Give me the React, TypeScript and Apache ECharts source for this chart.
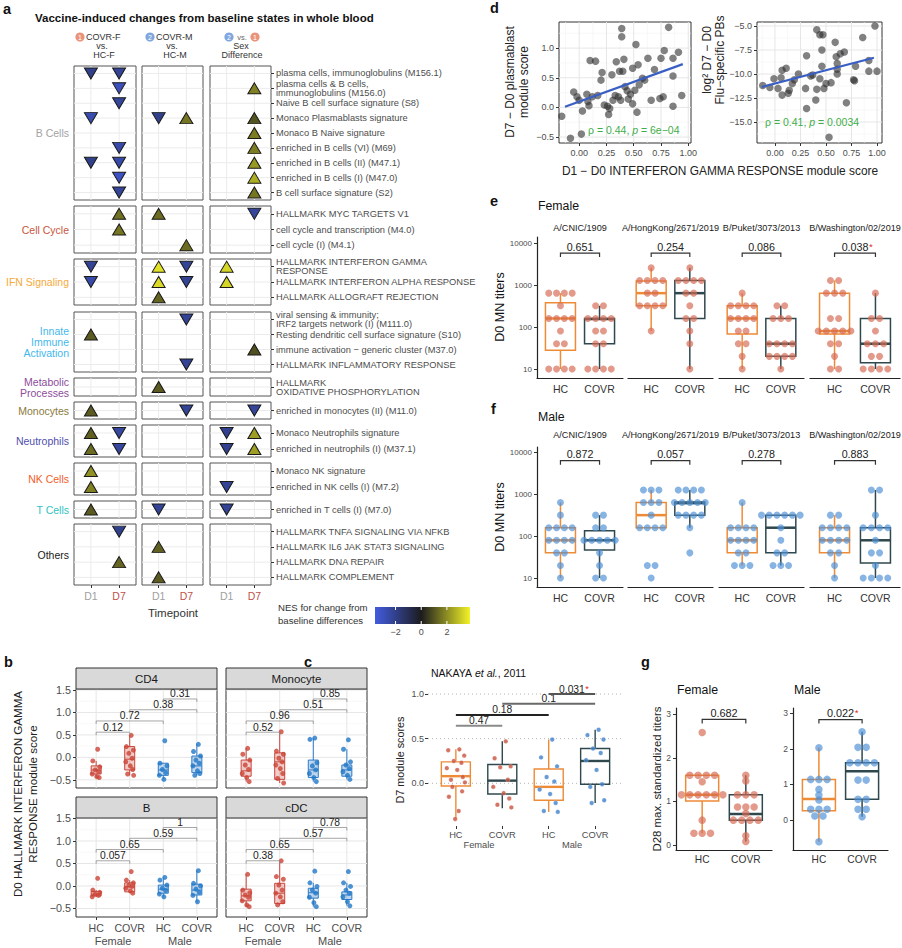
import React, { useEffect, useRef } from "react";
import * as echarts from "echarts";

const FONT = "'Liberation Sans', Arial, Helvetica, sans-serif";

/* ================= panel a ================= */
const aGroupNames = ["B Cells", "Cell Cycle", "IFN Signaling", "Innate\nImmune\nActivation", "Metabolic\nProcesses", "Monocytes", "Neutrophils", "NK Cells", "T Cells", "Others"];
const aGroupColors = ["#a3a3a3", "#c8553d", "#f5a93b", "#3fb8ec", "#8e4c9c", "#8a7a3c", "#4f4fae", "#f2602b", "#2fc2c2", "#1a1a1a"];
const aGroupSizes = [9, 3, 3, 4, 1, 1, 2, 2, 1, 4];
const aRowLabels = [
  "plasma cells, immunoglobulins (M156.1)",
  "plasma cells & B cells,\nimmunoglobulins (M156.0)",
  "Naive B cell surface signature (S8)",
  "Monaco Plasmablasts signature",
  "Monaco B Naive signature",
  "enriched in B cells (VI) (M69)",
  "enriched in B cells (II) (M47.1)",
  "enriched in B cells (I) (M47.0)",
  "B cell surface signature (S2)",
  "HALLMARK MYC TARGETS V1",
  "cell cycle and transcription (M4.0)",
  "cell cycle (I) (M4.1)",
  "HALLMARK INTERFERON GAMMA\nRESPONSE",
  "HALLMARK INTERFERON ALPHA RESPONSE",
  "HALLMARK ALLOGRAFT REJECTION",
  "viral sensing & immunity;\nIRF2 targets network (I) (M111.0)",
  "Resting dendritic cell surface signature (S10)",
  "immune activation \u2212 generic cluster (M37.0)",
  "HALLMARK INFLAMMATORY RESPONSE",
  "HALLMARK\nOXIDATIVE PHOSPHORYLATION",
  "enriched in monocytes (II) (M11.0)",
  "Monaco Neutrophils signature",
  "enriched in neutrophils (I) (M37.1)",
  "Monaco NK signature",
  "enriched in NK cells (I) (M7.2)",
  "enriched in T cells (I) (M7.0)",
  "HALLMARK TNFA SIGNALING VIA NFKB",
  "HALLMARK IL6 JAK STAT3 SIGNALING",
  "HALLMARK DNA REPAIR",
  "HALLMARK COMPLEMENT",
];
const aTimepoints = ["D1", "D7"];
// [row index, timepoint (1 = D1, 2 = D7), NES]
const aCovrFvsHcF = [
  [0, 1, -2.0], [0, 2, -2.2], [1, 2, -2.9], [2, 2, -2.3], [3, 1, -2.7], [5, 2, -2.6], [6, 1, -2.0], [6, 2, -2.6],
  [7, 2, -3.1], [8, 2, -2.3], [9, 2, 1.5], [10, 2, 1.6], [12, 1, -2.2], [13, 1, -2.6], [16, 1, 1.1], [20, 1, 1.1],
  [21, 1, 1.2], [21, 2, -2.4], [22, 1, 1.4], [22, 2, -2.4], [23, 1, 2.1], [24, 1, 1.8], [25, 1, 1.1], [26, 2, -2.0], [28, 2, 1.3],
];
const aCovrMvsHcM = [
  [3, 1, -2.0], [3, 2, 1.6], [9, 1, 1.4], [11, 2, 1.4], [12, 1, 3.5], [12, 2, -2.2], [13, 1, 3.4], [13, 2, -2.2],
  [14, 1, 1.3], [15, 2, -2.2], [18, 2, -2.2], [19, 1, 1.1], [20, 2, -2.2], [25, 1, -2.2], [27, 1, 1.2], [29, 1, 1.1],
];
const aSexDifference = [
  [1, 2, 1.8], [3, 2, 1.0], [4, 2, 1.7], [5, 2, 1.7], [6, 2, 2.2], [7, 2, 2.6], [8, 2, 1.6], [9, 2, -2.3],
  [12, 1, 3.3], [13, 1, 3.3], [17, 2, 0.9], [20, 2, -2.3], [21, 1, -2.1], [21, 2, 2.3], [22, 1, -2.1], [22, 2, 2.3],
  [24, 1, -2.2], [25, 1, -2.2],
];
const aNesTicks = [-2, 0, 2];
const aNesLimits = [-3.6, 3.8];

/* ================= panel b ================= */
const bCellTypes = ["CD4", "Monocyte", "B", "cDC"];
const bGroupLabels = ["HC", "COVR", "HC", "COVR"];
const bSexLabels = ["Female", "Male"];
const bPoints = [
  [[0.18, -0.08, -0.21, -0.28, -0.32, -0.37, -0.43, -0.45], [0.49, 0.24, 0.16, 0.09, -0.02, -0.1, -0.19, -0.27, -0.37, -0.4], [0.37, -0.13, -0.19, -0.27, -0.34, -0.4, -0.49], [0.29, 0.13, 0.03, -0.06, -0.13, -0.19, -0.3, -0.36, -0.4]],
  [[0.2, 0.07, -0.06, -0.17, -0.27, -0.36, -0.45, -0.54], [0.57, 0.14, 0.07, -0.02, -0.1, -0.17, -0.25, -0.36, -0.47, -0.57], [0.43, 0.4, -0.12, -0.19, -0.28, -0.36, -0.45, -0.54], [0.39, 0.18, -0.1, -0.17, -0.25, -0.32, -0.4, -0.49]],
  [[0.17, -0.09, -0.14, -0.18, -0.21, -0.24], [0.32, 0.13, 0.07, 0.02, -0.01, -0.05, -0.11, -0.16], [0.19, 0.13, 0.02, -0.05, -0.1, -0.18, -0.24], [0.34, 0.06, 0.0, -0.07, -0.14, -0.21, -0.35]],
  [[0.26, -0.09, -0.15, -0.2, -0.25, -0.33, -0.42, -0.46], [0.56, 0.21, 0.15, 0.02, -0.09, -0.16, -0.24, -0.35, -0.42], [0.33, 0.07, -0.01, -0.09, -0.16, -0.25, -0.37, -0.46], [0.32, 0.07, -0.01, -0.09, -0.16, -0.24, -0.35, -0.44]],
];
const bBoxes = [
  [[-0.45, -0.37, -0.28, -0.19, -0.08], [-0.4, -0.28, -0.04, 0.24, 0.49], [-0.49, -0.4, -0.28, -0.13, -0.13], [-0.4, -0.34, -0.19, 0.03, 0.29]],
  [[-0.54, -0.42, -0.3, -0.06, 0.2], [-0.57, -0.49, -0.1, 0.1, 0.57], [-0.54, -0.45, -0.28, -0.06, 0.43], [-0.49, -0.42, -0.28, -0.17, 0.18]],
  [[-0.24, -0.22, -0.18, -0.12, -0.09], [-0.16, -0.13, -0.02, 0.07, 0.13], [-0.24, -0.16, -0.07, 0.02, 0.19], [-0.35, -0.2, -0.09, 0.04, 0.34]],
  [[-0.46, -0.33, -0.22, -0.07, 0.26], [-0.42, -0.39, -0.16, 0.06, 0.56], [-0.46, -0.27, -0.15, -0.05, 0.07], [-0.44, -0.3, -0.2, -0.13, 0.07]],
];
const bPValues = [["0.12", "0.72", "0.38", "0.31"], ["0.52", "0.96", "0.51", "0.85"], ["0.057", "0.65", "0.59", "1"], ["0.38", "0.65", "0.57", "0.78"]];
const bComparisons = [[1, 2], [1, 3], [2, 4], [3, 4]];
const bBracketY = [0.56, 0.81, 1.06, 1.3];
const bTicksY = [-0.5, 0, 0.5, 1, 1.5];

/* ================= panel c ================= */
const cGroupLabels = ["HC", "COVR", "HC", "COVR"];
const cHCFemale = [0.38, 0.37, 0.31, 0.25, 0.23, 0.17, 0.15, 0.07, 0.04, 0.01, -0.04, -0.09, -0.15, -0.31, -0.4];
const cCOVRFemale = [0.47, 0.28, 0.19, 0.18, 0.04, -0.04, -0.11, -0.17, -0.24, -0.27];
const cHCMale = [0.49, 0.29, 0.19, 0.07, 0.02, -0.07, -0.12, -0.22, -0.31, -0.32];
const cCOVRMale = [0.6, 0.54, 0.49, 0.39, 0.34, 0.26, 0.15, -0.01, -0.04, -0.19, -0.22];
const cBoxes = [[-0.39, -0.03, 0.08, 0.24, 0.38], [-0.28, -0.12, 0.03, 0.21, 0.47], [-0.32, -0.19, -0.04, 0.16, 0.49], [-0.22, -0.01, 0.25, 0.39, 0.6]];
const cPValues = ["0.47", "0.18", "0.1", "0.031"];
const cSignificant = [false, false, false, true];
const cComparisons = [[1, 2], [1, 3], [2, 4], [3, 4]];
const cBracketY = [0.645, 0.765, 0.89, 1.0];
const cTicksY = [0, 0.5, 1];

/* ================= panel d ================= */
const dPlasmablast = [
  [-0.16, -0.15], [-0.08, -0.52], [-0.05, 0.26], [-0.02, 0.18], [0.0, 0.12], [0.02, -0.45], [0.03, -0.06], [0.07, 0.22],
  [0.08, 0.1], [0.09, 0.03], [0.1, 0.79], [0.15, 0.78], [0.12, 0.18], [0.17, 0.2], [0.2, 0.46], [0.21, 0.59],
  [0.23, 0.04], [0.26, 0.02], [0.27, -0.12], [0.28, -0.02], [0.3, 0.55], [0.31, 0.12], [0.33, 0.2], [0.34, 0.77],
  [0.36, 0.18], [0.37, 0.61], [0.38, 0.12], [0.39, 1.33], [0.39, 1.19], [0.4, 0.61], [0.41, 0.81], [0.42, 0.35],
  [0.44, 0.28], [0.45, 0.14], [0.47, 0.22], [0.49, 0.06], [0.49, 0.66], [0.51, 0.29], [0.52, 1.06], [0.53, -0.08],
  [0.54, 0.72], [0.55, 0.38], [0.58, 0.49], [0.6, 0.46], [0.63, 0.83], [0.66, 0.12], [0.69, 0.64], [0.74, 0.15],
  [0.77, 0.18], [0.75, 0.83], [0.78, 0.96], [0.82, 1.35], [0.86, 0.83], [0.86, 0.53], [0.86, 0.02], [0.91, 0.93], [0.94, 0.2],
];
const dFluPB = [
  [-0.12, -11.2], [-0.05, -11.4], [-0.01, -10.5], [0.03, -11.5], [0.06, -10.4], [0.07, -12.2], [0.07, -9.6], [0.11, -9.4],
  [0.13, -12.0], [0.14, -11.7], [0.17, -11.0], [0.19, -10.6], [0.23, -10.0], [0.3, -11.5], [0.31, -13.6], [0.31, -8.1],
  [0.35, -10.2], [0.37, -10.1], [0.4, -12.7], [0.41, -11.6], [0.41, -5.4], [0.44, -5.9], [0.46, -7.5], [0.47, -5.9],
  [0.44, -10.5], [0.46, -9.2], [0.48, -11.5], [0.5, -11.0], [0.53, -16.6], [0.55, -10.9], [0.59, -6.7], [0.6, -8.2],
  [0.61, -8.9], [0.61, -9.5], [0.61, -10.0], [0.64, -7.9], [0.68, -7.7], [0.7, -13.0], [0.77, -10.6], [0.78, -10.7],
  [0.79, -9.2], [0.86, -6.2], [0.92, -8.6], [0.92, -9.7], [0.98, -5.0], [1.0, -9.7],
];
const dPlasmablastFit = [[-0.13, 0.01], [0.95, 0.73]];
const dFluPBFit = [[-0.13, -11.35], [0.97, -8.3]];
const dTicksX = [0, 0.25, 0.5, 0.75, 1];
const dTicksPlasmablast = [-0.5, 0, 0.5, 1];
const dTicksFluPB = [-15, -12.5, -10, -7.5, -5];

/* ================= panels e / f ================= */
const eStrains = ["A/CNIC/1909", "A/HongKong/2671/2019", "B/Puket/3073/2013", "B/Washington/02/2019"];
const eGroupLabels = ["HC", "COVR"];
const eTiterTicks = [10, 100, 1000, 10000];
const eFemaleHC = [
  [640, 640, 640, 640, 320, 160, 160, 160, 160, 80, 40, 40, 10, 10, 10, 10],
  [2560, 1280, 1280, 1280, 1280, 640, 640, 320, 320, 320, 320, 80],
  [640, 320, 320, 320, 320, 160, 160, 160, 160, 80, 80, 40, 40, 20, 10],
  [1280, 1280, 640, 640, 640, 160, 160, 80, 80, 80, 80, 80, 40, 40, 20, 10, 10],
];
const eFemaleCOVR = [
  [320, 320, 160, 160, 160, 160, 80, 80, 40, 40, 10, 10, 10, 10],
  [2560, 1280, 1280, 1280, 1280, 640, 640, 320, 160, 160, 80, 40, 10],
  [320, 320, 160, 160, 160, 40, 40, 40, 40, 20, 20, 20, 20, 10],
  [640, 160, 160, 80, 40, 40, 40, 20, 20, 10, 10, 10, 10],
];
const eMaleHC = [
  [640, 320, 160, 160, 160, 160, 80, 80, 80, 80, 40, 40, 20, 10],
  [1280, 1280, 1280, 640, 640, 640, 320, 160, 160, 160, 160, 20, 20, 10],
  [640, 160, 160, 160, 160, 80, 80, 80, 80, 40, 40, 20, 20, 20],
  [320, 320, 160, 160, 160, 160, 80, 80, 80, 80, 40, 40, 20, 10],
];
const eMaleCOVR = [
  [320, 320, 160, 160, 80, 80, 80, 80, 80, 40, 20, 10, 10],
  [1280, 1280, 1280, 1280, 640, 640, 640, 640, 640, 320, 320, 320, 320, 160, 40],
  [320, 320, 320, 320, 320, 320, 160, 80, 40, 40, 20, 20, 20],
  [1280, 1280, 320, 160, 160, 160, 160, 80, 40, 40, 20, 10, 10, 10, 10],
];
const eFemaleHCBox = [[10, 28, 160, 380, 640], [80, 320, 640, 1250, 2560], [10, 68, 160, 320, 640], [10, 68, 80, 640, 1280]];
const eFemaleCOVRBox = [[10, 40, 155, 160, 320], [10, 160, 640, 1280, 2560], [10, 20, 40, 160, 320], [10, 14, 40, 160, 640]];
const eMaleHCBox = [[10, 40, 80, 160, 640], [160, 160, 320, 640, 1280], [20, 40, 80, 160, 640], [10, 40, 80, 160, 320]];
const eMaleCOVRBox = [[10, 47, 80, 135, 320], [160, 320, 620, 660, 1280], [20, 40, 160, 320, 320], [10, 23, 80, 160, 1280]];
const eFemalePValues = ["0.651", "0.254", "0.086", "0.038"];
const eFemaleSignificant = [false, false, false, true];
const eMalePValues = ["0.872", "0.057", "0.278", "0.883"];
const eMaleSignificant = [false, false, false, false];
const eBracketTiter = [5750, 6450];

/* ================= panel g ================= */
const gFemaleHC = [2.58, 1.6, 1.6, 1.6, 1.6, 1.45, 1.15, 1.15, 1.15, 1.15, 1.15, 1.15, 0.57, 0.27, 0.27, 0.27];
const gFemaleCOVR = [1.6, 1.47, 1.15, 1.15, 1.15, 0.87, 0.87, 0.87, 0.72, 0.57, 0.57, 0.57, 0.57, 0.21, 0.08];
const gMaleHC = [2.03, 1.14, 1.14, 1.14, 0.86, 0.7, 0.56, 0.3, 0.3, 0.3, 0.11, 0.11, -0.61];
const gMaleCOVR = [2.48, 2.04, 2.04, 1.61, 1.61, 1.61, 1.61, 1.12, 1.12, 0.58, 0.58, 0.3, 0.3, 0.09];
const gFemaleBoxes = [[0.27, 1.01, 1.15, 1.6, 1.6], [0.08, 0.57, 0.71, 1.15, 1.6]];
const gMaleBoxes = [[-0.61, 0.26, 0.59, 1.14, 2.03], [0.09, 0.58, 1.37, 1.61, 2.48]];
const gPValues = ["0.682", "0.022"];
const gSignificant = [false, true];
const gBracketY = [2.88, 2.82];
const gTicksY = [0, 1, 2, 3];

/* ================= styling constants ================= */
const HC_COL = "#ee8b37";
const COVR_COL = "#2f484e";
const STAR_COL = "#e3261f";
const JITTER = [0.05, -0.11, 0.12, -0.03, 0.08, -0.13, 0.02, 0.1, -0.07, 0.13, -0.05, 0.09, -0.1, 0.04, -0.01];

function nesColor(v: number): string {
  const mid = [28, 28, 30];
  const lo = [66, 92, 224];
  const hi = [242, 242, 40];
  const t = v < 0 ? Math.min(1, v / aNesLimits[0]) : Math.min(1, v / aNesLimits[1]);
  const end = v < 0 ? lo : hi;
  return "rgb(" + mid.map((m, i) => Math.round(m + (end[i] - m) * t)).join(",") + ")";
}
const neg = (s: string) => s.replace("-", "\u2212");
const lg = (v: number) => Math.round(Math.log10(v) * 1e6) / 1e6;
// approximate advance width (em) of a numeric label in an Arial-metric font
const numWidthEm = (s: string) => s.split("").reduce((w, ch) => w + (ch === "." ? 0.278 : 0.556), 0);

function txt(x: number, y: number, text: string, o: any = {}) {
  const align = o.align || "left";
  const va = o.valign || "middle";
  const style: any = {
    text, fill: o.color || "#222", fontSize: o.size || 10, fontFamily: FONT,
    fontWeight: o.weight || "normal", fontStyle: o.italic ? "italic" : "normal",
    align, verticalAlign: va, textAlign: align, textVerticalAlign: va,
  };
  if (o.lh) style.lineHeight = o.lh;
  if (o.rich) style.rich = o.rich;
  return { type: "text", x, y, rotation: o.rot || 0, silent: true, z: 50, style };
}

function dotplotXY(values: number[], x: number, step: number, tf = (v: number) => v) {
  const counts = new Map<number, number>();
  values.forEach((v) => counts.set(v, (counts.get(v) || 0) + 1));
  const out: number[][] = [];
  counts.forEach((n, v) => {
    for (let k = 0; k < n; k++) out.push([x + (k - (n - 1) / 2) * step, tf(v)]);
  });
  return out;
}
const jitterXY = (values: number[], x: number, amp: number) => values.map((v, k) => [x + JITTER[k % JITTER.length] * amp, v]);

function buildOption() {
  const grid: any[] = [];
  const xAxis: any[] = [];
  const yAxis: any[] = [];
  const series: any[] = [];
  const graphic: any[] = [];

  const addGrid = (l: number, t: number, r: number, b: number, xa: any, ya: any, extra: any = {}) => {
    const i = grid.length;
    grid.push({ left: l, top: t, width: r - l, height: b - t, show: false, ...extra });
    xAxis.push({ gridIndex: i, ...xa });
    yAxis.push({ gridIndex: i, ...ya });
    return i;
  };
  const axis = (min: number, max: number, ticks: number[], fmt: any, o: any = {}) => ({
    type: "value", min, max, inverse: !!o.inverse, position: o.position,
    axisLine: { show: !!o.line, onZero: false, lineStyle: { color: o.lineColor || "#222", width: o.lineWidth || 1 } },
    axisTick: { show: !!o.tick, customValues: ticks, length: o.tickLen || 3, lineStyle: { color: "#333", width: 1 } },
    axisLabel: {
      show: !!o.label, customValues: ticks, formatter: fmt, fontSize: o.fs || 9, color: o.color || "#4d4d4d",
      fontFamily: FONT, margin: o.margin ?? 4, lineHeight: o.lh, rich: o.rich,
    },
    splitLine: { show: false },
    minorSplitLine: { show: false },
  });
  const gridLines = (gi: number, xs: number[], ys: number[], color: string, lw: number, dash?: number[]) => {
    series.push({
      type: "custom", xAxisIndex: gi, yAxisIndex: gi, silent: true, z: 1, data: [[0, 0]],
      renderItem: (params: any, api: any) => {
        const cs = params.coordSys;
        const children: any[] = [];
        xs.forEach((v) => {
          const p = api.coord([v, ys.length ? ys[0] : 0]);
          children.push({ type: "line", shape: { x1: p[0], y1: cs.y, x2: p[0], y2: cs.y + cs.height }, style: { stroke: color, lineWidth: lw, lineDash: dash } });
        });
        ys.forEach((v) => {
          const p = api.coord([xs.length ? xs[0] : 0, v]);
          children.push({ type: "line", shape: { x1: cs.x, y1: p[1], x2: cs.x + cs.width, y2: p[1] }, style: { stroke: color, lineWidth: lw, lineDash: dash } });
        });
        return { type: "group", children };
      },
    });
  };
  const boxes = (gi: number, items: number[][], st: any) => {
    series.push({
      type: "custom", xAxisIndex: gi, yAxisIndex: gi, silent: true, z: 3, data: items,
      renderItem: (params: any, api: any) => {
        const x = api.value(0);
        const c = [1, 2, 3, 4, 5].map((k) => api.coord([x, api.value(k)]));
        const px = c[0][0];
        const hw = st.w / 2;
        return {
          type: "group",
          children: [
            { type: "line", shape: { x1: px, y1: c[0][1], x2: px, y2: c[1][1] }, style: { stroke: st.color, lineWidth: st.lw } },
            { type: "line", shape: { x1: px, y1: c[3][1], x2: px, y2: c[4][1] }, style: { stroke: st.color, lineWidth: st.lw } },
            { type: "rect", shape: { x: px - hw, y: c[3][1], width: st.w, height: c[1][1] - c[3][1] }, style: { fill: st.fill || "none", stroke: st.color, lineWidth: st.lw } },
            { type: "line", shape: { x1: px - hw, y1: c[2][1], x2: px + hw, y2: c[2][1] }, style: { stroke: st.color, lineWidth: st.mlw || st.lw } },
          ],
        };
      },
    });
  };
  const brackets = (gi: number, items: number[][], st: any) => {
    series.push({
      type: "custom", xAxisIndex: gi, yAxisIndex: gi, silent: true, z: 8,
      data: items.map((it) => [it[0], it[2]]),
      renderItem: (params: any, api: any) => {
        const i = params.dataIndex;
        const it = items[i];
        const p1 = api.coord([it[0], it[2]]);
        const p2 = api.coord([it[1], it[2]]);
        const color = st.colors ? st.colors[i] : st.color;
        const lab = st.labels[i];
        const sig = st.sig && st.sig[i];
        const cx = (p1[0] + p2[0]) / 2;
        const ty = p1[1] - st.gap;
        const pts = st.tip
          ? [[p1[0], p1[1] + st.tip], [p1[0], p1[1]], [p2[0], p2[1]], [p2[0], p2[1] + st.tip]]
          : [[p1[0], p1[1]], [p2[0], p2[1]]];
        const children: any[] = [
          { type: "polyline", shape: { points: pts }, style: { stroke: color, lineWidth: st.lw, fill: "none" } },
          { type: "text", x: cx, y: ty, style: { text: lab, fill: st.textColor, fontSize: st.fs, fontFamily: FONT, align: "center", verticalAlign: "bottom" } },
        ];
        if (sig) {
          const half = (numWidthEm(lab) * st.fs) / 2;
          children.push({ type: "text", x: cx + half + 0.5, y: ty - 1, style: { text: "*", fill: STAR_COL, fontSize: st.fs * 0.9, fontFamily: FONT, align: "left", verticalAlign: "bottom" } });
        }
        return { type: "group", children };
      },
    });
  };

  /* ---------- letters ---------- */
  const letter = (x: number, y: number, s: string) => graphic.push(txt(x, y, s, { size: 14.5, weight: "bold", color: "#111" }));
  letter(3, 9, "a");
  letter(490, 8, "d");
  letter(490, 201, "e");
  letter(491, 409, "f");
  letter(4, 662, "b");
  letter(304, 662, "c");
  letter(641, 662, "g");

  /* ================= panel a ================= */
  graphic.push(txt(35, 18, "Vaccine-induced changes from baseline states in whole blood", { size: 11.5, weight: "bold", color: "#111" }));
  const circ = (cx: number, cy: number, fill: string, n: string) => {
    graphic.push({ type: "circle", shape: { cx, cy, r: 4.6 }, style: { fill }, silent: true, z: 50 });
    graphic.push(txt(cx, cy + 0.3, n, { align: "center", size: 7, color: "#fff" }));
  };
  const SALMON = "#e8937a";
  const BLUEC = "#7fa6de";
  circ(80, 37, SALMON, "1");
  graphic.push(txt(86, 37, "COVR-F", { size: 9, color: "#333" }));
  graphic.push(txt(102, 46, "vs.", { size: 9, color: "#333", align: "center" }));
  graphic.push(txt(104, 55, "HC-F", { size: 9, color: "#333", align: "center" }));
  circ(150, 37, BLUEC, "2");
  graphic.push(txt(156, 37, "COVR-M", { size: 9, color: "#333" }));
  graphic.push(txt(172, 46, "vs.", { size: 9, color: "#333", align: "center" }));
  graphic.push(txt(175, 55, "HC-M", { size: 9, color: "#333", align: "center" }));
  circ(229, 37, BLUEC, "2");
  graphic.push(txt(242, 37, "vs.", { size: 7.5, color: "#666", align: "center" }));
  circ(255, 37, SALMON, "1");
  graphic.push(txt(241, 46, "Sex", { size: 9, color: "#333", align: "center" }));
  graphic.push(txt(242, 55, "Difference", { size: 9, color: "#333", align: "center" }));

  const aColX = [[74, 136], [142, 203], [210, 271]];
  const aGroupY = [[66, 200], [206, 253], [259, 305], [312, 372], [378, 396], [402, 419], [425, 457], [463, 495], [501, 518], [524, 585]];
  const comps = [aCovrFvsHcF, aCovrMvsHcM, aSexDifference];
  let start = 0;
  aGroupSizes.forEach((n, g) => {
    const rows = aRowLabels.slice(start, start + n);
    const rowIdx = rows.map((_, i) => i);
    const last = g === aGroupSizes.length - 1;
    const s0 = start;
    comps.forEach((pts, c) => {
      const gi = addGrid(
        aColX[c][0], aGroupY[g][0], aColX[c][1], aGroupY[g][1],
        axis(0.4, 2.6, [1, 2], (v: number) => (Math.round(v) === 1 ? "{d1|" + aTimepoints[0] + "}" : "{d7|" + aTimepoints[1] + "}"), {
          tick: last, label: last, margin: 5,
          rich: { d1: { color: "#a0a0a0", fontSize: 10.5, fontFamily: FONT }, d7: { color: "#c0504d", fontSize: 10.5, fontFamily: FONT } },
        }),
        axis(-0.5, n - 0.5, rowIdx, (v: number) => rows[Math.round(v)], { inverse: true, position: "right", tick: c === 2, label: c === 2, fs: 9.3, lh: 9, margin: 5, color: "#4d4d4d" }),
        { show: true, borderColor: "#555", borderWidth: 1, backgroundColor: "#fff" }
      );
      gridLines(gi, [1, 2], rowIdx, "#ebebeb", 1);
      const data = pts
        .filter((p) => p[0] >= s0 && p[0] < s0 + n)
        .map((p) => ({ value: [p[1], p[0] - s0], symbolRotate: p[2] < 0 ? 180 : 0, itemStyle: { color: nesColor(p[2]) } }));
      series.push({
        type: "scatter", xAxisIndex: gi, yAxisIndex: gi, symbol: "triangle", symbolSize: [13, 11], silent: true, z: 5,
        itemStyle: { borderColor: "#1a1a1a", borderWidth: 1, opacity: 1 }, data,
      });
    });
    graphic.push(txt(69, (aGroupY[g][0] + aGroupY[g][1]) / 2, aGroupNames[g], { align: "right", color: aGroupColors[g], size: 10.5, lh: 11 }));
    start += n;
  });
  graphic.push(txt(173, 613, "Timepoint", { align: "center", size: 11.5, color: "#333" }));
  graphic.push(txt(278, 614, "NES for change from\nbaseline differences", { size: 9.6, color: "#333", lh: 13 }));
  const cbX0 = 375, cbX1 = 470, cbY = 607, cbH = 17;
  const span = aNesLimits[1] - aNesLimits[0];
  graphic.push({
    type: "rect", shape: { x: cbX0, y: cbY, width: cbX1 - cbX0, height: cbH }, silent: true, z: 40,
    style: {
      fill: new echarts.graphic.LinearGradient(0, 0, 1, 0, [
        { offset: 0, color: nesColor(aNesLimits[0]) },
        { offset: -aNesLimits[0] / span, color: nesColor(0) },
        { offset: 1, color: nesColor(aNesLimits[1]) },
      ]),
    },
  });
  aNesTicks.forEach((t) => {
    const x = cbX0 + ((t - aNesLimits[0]) / span) * (cbX1 - cbX0);
    graphic.push({ type: "line", shape: { x1: x, y1: cbY, x2: x, y2: cbY + 3 }, style: { stroke: "#fff", lineWidth: 1 }, silent: true, z: 41 });
    graphic.push({ type: "line", shape: { x1: x, y1: cbY + cbH - 3, x2: x, y2: cbY + cbH }, style: { stroke: "#fff", lineWidth: 1 }, silent: true, z: 41 });
    graphic.push(txt(x, cbY + cbH + 8, neg(String(t)), { align: "center", size: 9, color: "#4d4d4d" }));
  });

  /* ================= panel d ================= */
  const border = { show: true, borderColor: "#333", borderWidth: 1, backgroundColor: "#fff" };
  const fmt2 = (v: number) => v.toFixed(2);
  const fmt1 = (v: number) => neg(v.toFixed(1));
  const dL = addGrid(559, 22, 691, 143,
    axis(-0.185, 1.025, dTicksX, fmt2, { tick: true, label: true, fs: 9, margin: 5 }),
    axis(-0.6, 1.44, dTicksPlasmablast, fmt1, { tick: true, label: true, fs: 9, margin: 5 }), border);
  gridLines(dL, [-0.125, 0.125, 0.375, 0.625, 0.875], [-0.25, 0.25, 0.75, 1.25], "#f3f3f3", 0.6);
  gridLines(dL, dTicksX, dTicksPlasmablast, "#e6e6e6", 1);
  series.push({ type: "scatter", xAxisIndex: dL, yAxisIndex: dL, symbolSize: 7.5, silent: true, z: 5, itemStyle: { color: "rgba(45,45,45,0.75)" }, data: dPlasmablast });
  series.push({ type: "line", xAxisIndex: dL, yAxisIndex: dL, symbol: "none", silent: true, z: 6, lineStyle: { color: "#3a5fc4", width: 2.2 }, data: dPlasmablastFit });
  const dR = addGrid(757, 22, 882, 143,
    axis(-0.176, 1.049, dTicksX, fmt2, { tick: true, label: true, fs: 9, margin: 5 }),
    axis(-17.19, -4.58, dTicksFluPB, fmt1, { tick: true, label: true, fs: 9, margin: 5 }), border);
  gridLines(dR, [-0.125, 0.125, 0.375, 0.625, 0.875], [-16.25, -13.75, -11.25, -8.75, -6.25], "#f3f3f3", 0.6);
  gridLines(dR, dTicksX, dTicksFluPB, "#e6e6e6", 1);
  series.push({ type: "scatter", xAxisIndex: dR, yAxisIndex: dR, symbolSize: 7.5, silent: true, z: 5, itemStyle: { color: "rgba(45,45,45,0.75)" }, data: dFluPB });
  series.push({ type: "line", xAxisIndex: dR, yAxisIndex: dR, symbol: "none", silent: true, z: 6, lineStyle: { color: "#3a5fc4", width: 2.2 }, data: dFluPBFit });
  graphic.push(txt(517, 82, "D7 \u2212 D0 plasmablast\nmodule score", { align: "center", size: 12, lh: 14, color: "#222", rot: Math.PI / 2 }));
  graphic.push(txt(713, 60, "log\u00b2 D7 \u2212 D0\nFlu\u2212specific PBs", { align: "center", size: 12, lh: 13, color: "#222", rot: Math.PI / 2 }));
  graphic.push(txt(720, 171, "D1 \u2212 D0 INTERFERON GAMMA RESPONSE module score", { align: "center", size: 11.9, color: "#222" }));
  const GREEN = "#3fae4a";
  const corRich = { n: { fill: GREEN, color: GREEN, fontSize: 10.5, fontFamily: FONT }, i: { fill: GREEN, color: GREEN, fontSize: 10.5, fontFamily: FONT, fontStyle: "italic" } };
  graphic.push(txt(588, 130, "{n|\u03c1 = 0.44, }{i|p}{n| = 6e\u221204}", { rich: corRich, color: GREEN, size: 10.5 }));
  graphic.push(txt(765, 122, "{n|\u03c1 = 0.41, }{i|p}{n| = 0.0034}", { rich: corRich, color: GREEN, size: 10.5 }));

  /* ================= panels e / f ================= */
  const ePanelX = [[537, 623], [628, 713], [719, 804], [810, 900]];
  const sexes = [
    { y: [237, 378], yr: [0.786, 4.143], hc: eFemaleHC, covr: eFemaleCOVR, hcBox: eFemaleHCBox, covrBox: eFemaleCOVRBox, p: eFemalePValues, sig: eFemaleSignificant, br: eBracketTiter[0], dot: "rgba(214,106,82,0.85)", stripY: 228, title: "Female", titleY: 206, yTitle: 307 },
    { y: [447, 587], yr: [0.785, 4.136], hc: eMaleHC, covr: eMaleCOVR, hcBox: eMaleHCBox, covrBox: eMaleCOVRBox, p: eMalePValues, sig: eMaleSignificant, br: eBracketTiter[1], dot: "rgba(78,144,214,0.85)", stripY: 435, title: "Male", titleY: 417, yTitle: 517 },
  ];
  sexes.forEach((s) => {
    graphic.push(txt(538, s.titleY, s.title, { size: 12.3, color: "#111" }));
    graphic.push(txt(500, s.yTitle, "D0 MN titers", { align: "center", size: 12.5, color: "#111", rot: Math.PI / 2 }));
    eStrains.forEach((strain, k) => {
      const [l, r] = ePanelX[k];
      const gi = addGrid(l, s.y[0], r, s.y[1],
        axis(0.4, 2.6, [1, 2], (v: number) => eGroupLabels[Math.round(v) - 1], { line: true, label: true, fs: 10.5, margin: 5, color: "#333", lineWidth: 1.2 }),
        axis(s.yr[0], s.yr[1], eTiterTicks.map(lg), (v: number) => String(Math.round(Math.pow(10, v))), { line: k === 0, tick: k === 0, label: k === 0, fs: 8, margin: 5, lineWidth: 1.2 }));
      boxes(gi, [[1, ...s.hcBox[k].map(lg)]], { color: HC_COL, w: 30, lw: 1.5, mlw: 2.5 });
      boxes(gi, [[2, ...s.covrBox[k].map(lg)]], { color: COVR_COL, w: 30, lw: 1.5, mlw: 2.5 });
      series.push({
        type: "scatter", xAxisIndex: gi, yAxisIndex: gi, symbolSize: 7, silent: true, z: 5, itemStyle: { color: s.dot },
        data: [...dotplotXY(s.hc[k], 1, 0.2, lg), ...dotplotXY(s.covr[k], 2, 0.2, lg)],
      });
      brackets(gi, [[1, 2, lg(s.br)]], { labels: [s.p[k]], sig: [s.sig[k]], color: "#333", lw: 1.2, tip: 4, gap: 1, fs: 10.7, textColor: "#222" });
      graphic.push(txt((l + r) / 2, s.stripY, strain, { align: "center", size: 9.1, color: "#1a1a1a" }));
    });
  });

  /* ================= panel b ================= */
  const bColX = [[76, 217], [226, 367]];
  const bStripY = [[668, 689], [797, 818]];
  const bPanelY = [[689, 788], [818, 917]];
  const bYRange = [[-0.682, 1.522], [-0.689, 1.511]];
  const bFemale = { stroke: "#c8453c", fill: "rgba(214,90,75,0.3)", dot: "#cb4336" };
  const bMale = { stroke: "#2c7bc9", fill: "rgba(44,123,201,0.3)", dot: "#2177c7" };
  bCellTypes.forEach((ct, i) => {
    const col = i % 2;
    const row = Math.floor(i / 2);
    const [l, r] = bColX[col];
    graphic.push({ type: "rect", shape: { x: l, y: bStripY[row][0], width: r - l, height: bStripY[row][1] - bStripY[row][0] }, style: { fill: "#d9d9d9", stroke: "#333", lineWidth: 1 }, silent: true, z: 45 });
    graphic.push(txt((l + r) / 2, (bStripY[row][0] + bStripY[row][1]) / 2, ct, { align: "center", size: 11.5, color: "#1a1a1a" }));
    const gi = addGrid(l, bPanelY[row][0], r, bPanelY[row][1],
      axis(0.4, 4.6, [1, 2, 3, 4], (v: number) => bGroupLabels[Math.round(v) - 1], { tick: row === 1, label: row === 1, fs: 10.6, margin: 5 }),
      axis(bYRange[row][0], bYRange[row][1], bTicksY, fmt1, { tick: col === 0, label: col === 0, fs: 10.8, margin: 5 }), border);
    gridLines(gi, [], [-0.25, 0.25, 0.75, 1.25], "#f3f3f3", 0.6);
    gridLines(gi, [1, 2, 3, 4], bTicksY, "#e6e6e6", 1);
    bBoxes[i].forEach((bx, k) => {
      const st = k < 2 ? bFemale : bMale;
      boxes(gi, [[k + 1, ...bx]], { color: st.stroke, fill: st.fill, w: 10, lw: 1, mlw: 1 });
      series.push({ type: "scatter", xAxisIndex: gi, yAxisIndex: gi, symbolSize: 5, silent: true, z: 5, itemStyle: { color: st.dot }, data: jitterXY(bPoints[i][k], k + 1, 0.9) });
    });
    brackets(gi, bComparisons.map((c, k) => [c[0], c[1], bBracketY[k]]), { labels: bPValues[i], color: "#8f8f8f", lw: 0.8, tip: 3, gap: 0, fs: 10.3, textColor: "#222" });
    if (row === 1) {
      graphic.push(txt(l + 37, 941, bSexLabels[0], { align: "center", size: 11, color: "#4d4d4d" }));
      graphic.push(txt(l + 104, 941, bSexLabels[1], { align: "center", size: 11, color: "#4d4d4d" }));
    }
  });
  graphic.push(txt(25, 794, "D0 HALLMARK INTERFERON GAMMA\nRESPONSE module score", { align: "center", size: 11.6, lh: 15, color: "#222", rot: Math.PI / 2 }));

  /* ================= panel c ================= */
  graphic.push(txt(431, 673, "{n|NAKAYA }{i|et al.}{n|, 2011}", {
    size: 10.5, color: "#111",
    rich: { n: { fill: "#111", color: "#111", fontSize: 10.5, fontFamily: FONT }, i: { fill: "#111", color: "#111", fontSize: 10.5, fontFamily: FONT, fontStyle: "italic" } },
  }));
  const cg = addGrid(428, 684, 623, 826,
    axis(0.4, 4.6, [1, 2, 3, 4], (v: number) => cGroupLabels[Math.round(v) - 1], { tick: true, label: true, fs: 9.3, margin: 4, color: "#4d4d4d" }),
    axis(-0.478, 1.112, cTicksY, (v: number) => v.toFixed(1), { tick: true, label: true, fs: 9, margin: 4 }));
  gridLines(cg, [], cTicksY, "#b5b5b5", 1, [1, 3]);
  const cPts = [cHCFemale, cCOVRFemale, cHCMale, cCOVRMale];
  cBoxes.forEach((bx, k) => {
    boxes(cg, [[k + 1, ...bx]], { color: k % 2 === 0 ? HC_COL : COVR_COL, w: 29, lw: 1.4, mlw: 2.4 });
    series.push({
      type: "scatter", xAxisIndex: cg, yAxisIndex: cg, symbolSize: 4.5, silent: true, z: 5,
      itemStyle: { color: k < 2 ? "#c9513d" : "#3d7fcb", borderColor: "rgba(255,255,255,0.6)", borderWidth: 0.5 },
      data: jitterXY(cPts[k], k + 1, 1.5),
    });
  });
  brackets(cg, cComparisons.map((c, k) => [c[0], c[1], cBracketY[k]]), { labels: cPValues, sig: cSignificant, colors: ["#8a8a8a", "#222", "#6a6a6a", "#555"], lw: 2, tip: 0, gap: 0, fs: 10.3, textColor: "#222" });
  graphic.push(txt(400, 760, "D7 module scores", { align: "center", size: 10.8, color: "#222", rot: Math.PI / 2 }));
  graphic.push(txt(479, 845, "Female", { align: "center", size: 9.3, color: "#4d4d4d" }));
  graphic.push(txt(572, 845, "Male", { align: "center", size: 9.3, color: "#4d4d4d" }));

  /* ================= panel g ================= */
  const gPanels = [
    { l: 676, r: 772, yr: [-0.115, 3.142], hc: gFemaleHC, covr: gFemaleCOVR, bx: gFemaleBoxes, dot: "rgba(214,106,82,0.85)", title: "Female" },
    { l: 793, r: 888, yr: [-0.843, 3.146], hc: gMaleHC, covr: gMaleCOVR, bx: gMaleBoxes, dot: "rgba(78,144,214,0.85)", title: "Male" },
  ];
  gPanels.forEach((p, k) => {
    graphic.push(txt(p.l + 1, 690, p.title, { size: 12.3, color: "#111" }));
    const gi = addGrid(p.l, 708, p.r, 850,
      axis(0.4, 2.6, [1, 2], (v: number) => eGroupLabels[Math.round(v) - 1], { line: true, label: true, fs: 10.2, margin: 4, color: "#333", lineWidth: 1.2 }),
      axis(p.yr[0], p.yr[1], gTicksY, (v: number) => String(v), { line: true, tick: true, label: true, fs: 8.5, margin: 5, lineWidth: 1.2 }));
    boxes(gi, [[1, ...p.bx[0]]], { color: HC_COL, w: 33, lw: 1.5, mlw: 2.5 });
    boxes(gi, [[2, ...p.bx[1]]], { color: COVR_COL, w: 33, lw: 1.5, mlw: 2.5 });
    series.push({
      type: "scatter", xAxisIndex: gi, yAxisIndex: gi, symbolSize: 7.5, silent: true, z: 5, itemStyle: { color: p.dot },
      data: [...dotplotXY(p.hc, 1, 0.19), ...dotplotXY(p.covr, 2, 0.19)],
    });
    brackets(gi, [[1, 2, gBracketY[k]]], { labels: [gPValues[k]], sig: [gSignificant[k]], color: "#333", lw: 1.2, tip: 4, gap: 1, fs: 10.9, textColor: "#222" });
  });
  graphic.push(txt(657, 779, "D28 max. standardized titers", { align: "center", size: 11.4, color: "#222", rot: Math.PI / 2 }));

  return {
    animation: false,
    backgroundColor: "#fff",
    textStyle: { fontFamily: FONT },
    grid, xAxis, yAxis, series, graphic,
  };
}

export default function App() {
  const ref = useRef<HTMLDivElement>(null);
  useEffect(() => {
    if (!ref.current) return;
    const chart = echarts.init(ref.current, null, { renderer: "svg", width: 902, height: 948 });
    chart.setOption(buildOption() as any);
    return () => chart.dispose();
  }, []);
  return <div ref={ref} style={{ position: "absolute", left: 0, top: 0, width: 902, height: 948, background: "#fff" }} />;
}
